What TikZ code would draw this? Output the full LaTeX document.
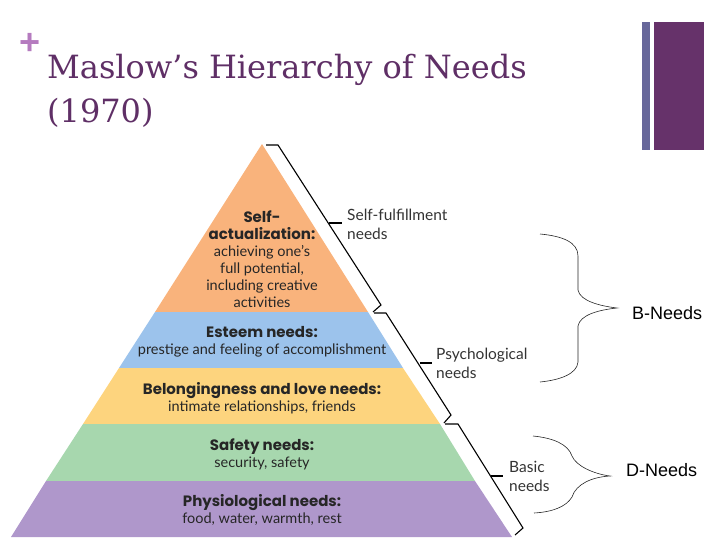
\documentclass[tikz,border=0pt]{standalone}
\usepackage{fontspec}
\setmainfont{Lato}
\newfontfamily\titlefont{DejaVu Serif}
\newfontfamily\labelfont{Liberation Sans}
\newfontfamily\headfont{Poppins}
\newcommand{\bandhead}[1]{{\headfont\bfseries\fontsize{15}{17}\selectfont #1}}
\usepackage{tikz}
\definecolor{titlepurple}{HTML}{5F2F66}
\definecolor{barblue}{HTML}{67679A}
\definecolor{barpurple}{HTML}{66326A}
\definecolor{plusmauve}{HTML}{B57BBF}
\definecolor{bandorange}{HTML}{F9B37C}
\definecolor{bandblue}{HTML}{9CC3EC}
\definecolor{bandyellow}{HTML}{FDD47E}
\definecolor{bandgreen}{HTML}{A7D7AE}
\definecolor{bandviolet}{HTML}{AF97CB}
\tikzset{
  titletext/.style = {anchor=base west, inner sep=0pt, text=titlepurple, font=\titlefont\fontsize{32}{32}\selectfont},
  bandtext/.style = {align=center, inner sep=0pt, text=black!85, font=\fontsize{14.5}{17}\selectfont},
  sidetext/.style = {anchor=west, align=left, inner sep=0pt, text=black!80, font=\fontsize{15.5}{19}\selectfont},
  needstext/.style = {anchor=west, inner sep=0pt, font=\labelfont\fontsize{18}{18}\selectfont},
  bracket/.style = {line width=1.1pt, black, line join=miter},
  brace/.style = {line width=0.6pt, black!85}
}

\begin{document}
\begin{tikzpicture}[x=1pt, y=-1pt]
\useasboundingbox (0,0) rectangle (728,546);
% header
\node [inner sep=0pt, text=plusmauve, font=\labelfont\bfseries\fontsize{36}{36}\selectfont] (plus) at (30,44) {+};
\node [titletext] (title) at (47,78) {Maslow’s Hierarchy of Needs};
\node [titletext] (year) at (47,122) {(1970)};
\fill [barblue] (642,22) rectangle (650,150);
\fill [barpurple] (654,22) rectangle (704,150);
% pyramid
\fill [bandorange] (262,144) -- (368,312) -- (155,312) -- cycle;
\fill [bandblue] (155,312) -- (368,312) -- (403,368) -- (119,368) -- cycle;
\fill [bandyellow] (119,368) -- (403,368) -- (440,424) -- (83,424) -- cycle;
\fill [bandgreen] (83,424) -- (440,424) -- (475,481) -- (46,481) -- cycle;
\fill [bandviolet] (46,481) -- (475,481) -- (512,537) -- (11,537) -- cycle;
\node [bandtext] (selfact) at (262,259) {\bandhead{Self-}\\\bandhead{actualization:}\\achieving one’s\\full potential,\\including creative\\activities};
\node [bandtext] (esteem) at (262,342) {\bandhead{Esteem needs:}\\prestige and feeling of accomplishment};
\node [bandtext] (belong) at (262,398) {\bandhead{Belongingness and love needs:}\\intimate relationships, friends};
\node [bandtext] (safety) at (262,454) {\bandhead{Safety needs:}\\security, safety};
\node [bandtext] (physio) at (262,510) {\bandhead{Physiological needs:}\\food, water, warmth, rest};
% side brackets
\node [sidetext] (fulfil) at (347,224) {Self-fulfillment\\needs};
\node [sidetext] (psych) at (436,363) {Psychological\\needs};
\node [sidetext] (basic) at (509,476) {Basic\\needs};
\draw [bracket] (266,145) -- (278,145) -- (381,305) -- (373,312);
\draw [bracket] (374,313) -- (386,313) -- (451,415) -- (444,423);
\draw [bracket] (445,424) -- (458,424) -- (523,528) -- (515,535);
\draw [bracket] (329,223) -- (342,223);
\draw [bracket] (420,363) -- (432,363);
\draw [bracket] (491,476) -- (503,476);
% braces
\node [needstext] (bneeds) at (632,313) {B-Needs};
\node [needstext] (dneeds) at (626,470) {D-Needs};
\draw [brace] (540,234) .. controls (562,236) and (578,242) .. (578,256) -- (578,290)
  .. controls (580,301) and (600,306) .. (617,308)
  .. controls (598,310) and (580,315) .. (578,326) -- (578,362)
  .. controls (577,374) and (560,380) .. (540,382);
\draw [brace] (533,436) .. controls (553,438) and (568,444) .. (572,456)
  .. controls (576,466) and (594,474) .. (610,476)
  .. controls (592,477) and (576,484) .. (572,497)
  .. controls (566,507) and (552,512) .. (534,513);
\end{tikzpicture}
\end{document}
